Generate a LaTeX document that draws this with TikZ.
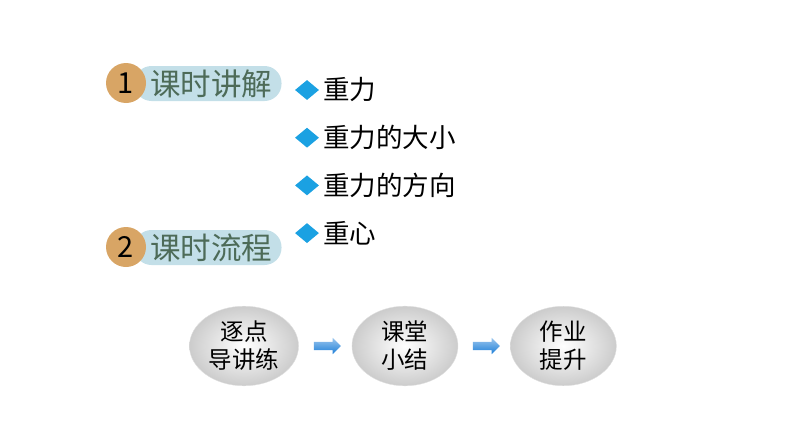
\documentclass[tikz,border=0pt]{standalone}
\usepackage{fontspec}
\setmainfont{Noto Sans CJK SC}
\usetikzlibrary{positioning}
\usetikzlibrary{shapes.geometric}
\usetikzlibrary{shapes.arrows}

\definecolor{badgeorange}{HTML}{D8A565}
\definecolor{barblue}{HTML}{C3DFE8}
\definecolor{bargreen}{HTML}{4D6B58}
\definecolor{dotblue}{HTML}{1BA1E2}
\definecolor{arrowblue}{HTML}{1E7FD8}

\begin{document}
\begin{tikzpicture}[x=1pt, y=-1pt, auto, node distance=47.7pt]
    \tikzstyle{bar}=[fill=barblue, rounded corners=17pt, minimum width=147pt, minimum height=35pt, inner sep=0pt]
    \tikzstyle{badge}=[circle, fill=badgeorange, minimum size=40pt, inner sep=0pt, font=\fontsize{29}{29}\selectfont]
    \tikzstyle{title}=[text=bargreen, inner sep=0pt, font=\fontsize{30.5}{30.5}\selectfont]
    \tikzstyle{dot}=[diamond, fill=dotblue, minimum width=24pt, minimum height=20pt, inner sep=0pt]
    \tikzstyle{item}=[inner sep=0pt, text=black, font=\fontsize{26.5}{26.5}\selectfont]
    \tikzstyle{stepbox}=[ellipse, shade, inner color=white, outer color=black!20, draw=black!12,
        minimum width=106pt, minimum height=78pt, align=center, font=\fontsize{23.5}{28}\selectfont]
    \tikzstyle{flow}=[single arrow, shade, top color=arrowblue!45, bottom color=arrowblue,
        single arrow head extend=4pt, minimum height=27pt, minimum width=16pt, inner sep=4pt]
    \useasboundingbox (0,0) rectangle (794,447);
    % badges
    \node[bar]      (bar_1) at (208,83.5)   {};
    \node[badge]    (num_1) at (126,83)     {1};
    \node[title]    (tit_1) at (211,84)     {课时讲解};
    \node[bar]      (bar_2) at (208,247.5)  {};
    \node[badge]    (num_2) at (126,247)    {2};
    \node[title]    (tit_2) at (211,248)    {课时流程};
    % bullets
    \node[dot]      (d_1) at (307,90)       {};
    \node[dot]      (d_2)[below=of d_1.center, anchor=center] {};
    \node[dot]      (d_3)[below=of d_2.center, anchor=center] {};
    \node[dot]      (d_4)[below=of d_3.center, anchor=center] {};
    \node[item]     (t_1)[right=4pt of d_1] {重力};
    \node[item]     (t_2)[right=4pt of d_2] {重力的大小};
    \node[item]     (t_3)[right=4pt of d_3] {重力的方向};
    \node[item]     (t_4)[right=4pt of d_4] {重心};
    % flow
    \node[stepbox]  (s_1) at (244,346)      {逐点\\导讲练};
    \node[stepbox]  (s_2)[right=53pt of s_1] {课堂\\小结};
    \node[stepbox]  (s_3)[right=52pt of s_2] {作业\\提升};
    \path
    (s_1) edge[draw=none] node[flow, auto=false]{} (s_2)
    (s_2) edge[draw=none] node[flow, auto=false]{} (s_3);
\end{tikzpicture}
\end{document}
